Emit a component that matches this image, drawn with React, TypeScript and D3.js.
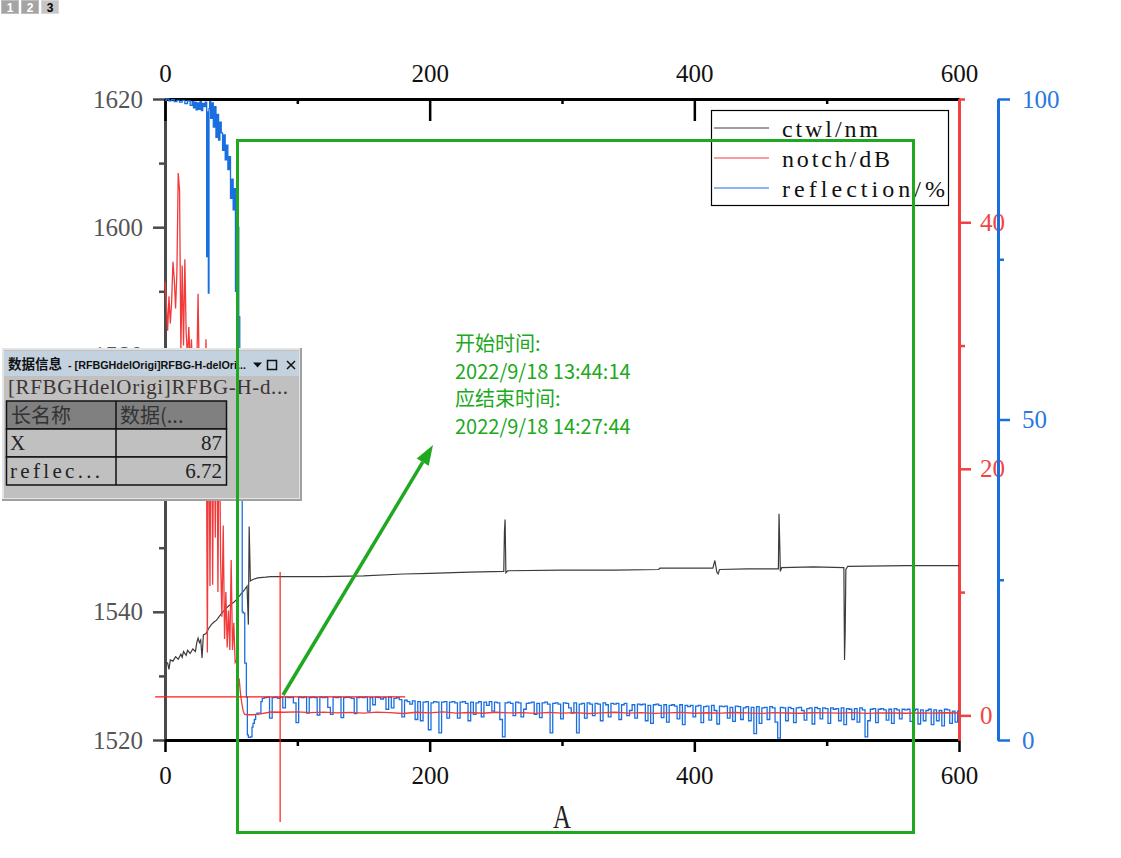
import { useEffect, useRef } from "react";
import * as d3 from "d3";

const W = 1121;
const H = 858;

const TABS = ["1", "2", "3"];

const X_TICKS = [0, 200, 400, 600];
const X_MINOR = [100, 300, 500];
const CTWL_TICKS = [1520, 1540, 1560, 1580, 1600, 1620];
const CTWL_MINOR = [1530, 1550, 1570, 1590, 1610];
const NOTCH_TICKS = [0, 20, 40];
const NOTCH_MINOR = [10, 30, 50];
const REFL_TICKS = [0, 50, 100];
const REFL_MINOR = [25, 75];

const SERIES = [
  { name: "ctwl/nm", color: "#3c3c3c", len: 96 },
  { name: "notch/dB", color: "#f23a3a", len: 108 },
  { name: "reflection/%", color: "#1a6fe0", len: 163 },
];

// ctwl (left axis), [x, nm]
const CTWL: [number, number][] = [
  [0, 1532.1], [2, 1532.0], [3, 1531.0], [4, 1532.5], [6, 1532.3], [8, 1533.0],
  [10, 1532.6], [12, 1533.4], [13, 1532.9], [14, 1533.8], [16, 1533.2], [17, 1534.0],
  [19, 1533.5], [21, 1534.2], [23, 1533.8], [24, 1535.2], [25, 1535.9], [26, 1535.2],
  [27, 1535.6], [28, 1532.8], [29, 1536.4], [31, 1536.6], [33, 1537.4], [35, 1538.0],
  [37, 1538.4], [39, 1538.7], [41, 1539.3], [43, 1539.8], [46, 1540.5], [48, 1540.9],
  [50, 1541.2], [52, 1541.5], [54, 1541.9], [56, 1542.4], [58, 1542.9], [60, 1543.4],
  [62, 1544.0], [63, 1538.0], [63.6, 1553.3], [64.5, 1544.8], [66, 1545.0], [70, 1545.3],
  [76, 1545.4], [80, 1545.5], [120, 1545.5], [150, 1545.6], [180, 1545.9], [200, 1546.0],
  [230, 1546.2], [256, 1546.3], [256.5, 1552.5], [257, 1554.4], [257.6, 1546.1],
  [259, 1546.4], [300, 1546.5], [340, 1546.5], [373, 1546.6], [374, 1546.8], [414, 1546.8],
  [415.5, 1548.0], [417, 1546.2], [418, 1545.9], [419, 1546.6], [440, 1546.7],
  [463.5, 1546.7], [464, 1555.3], [464.5, 1551.0], [465, 1546.3], [466, 1546.9],
  [490, 1547.0], [513, 1546.9], [513.5, 1532.5], [514, 1536.8], [514.5, 1546.6],
  [516, 1547.1], [560, 1547.2], [600, 1547.2],
];

// notch (red axis), [x, dB] for the start
const NOTCH_HEAD: [number, number][] = [
  [0, 35.2], [1, 33.6], [2, 31.2], [3, 34.0], [4, 31.8], [5, 33.5], [6, 36.8], [7, 35.4],
  [8, 33.0], [9, 36.0], [10, 44.0], [11, 42.6], [12, 29.5], [13, 36.5], [14, 30.0],
  [15, 37.0], [16, 31.0], [17, 29.0], [18, 31.5], [19, 28.5], [20, 30.5], [21, 27.0],
  [22, 29.0], [23, 26.0], [24, 28.0], [25, 34.2], [26, 26.5], [27, 24.0], [28, 27.0],
  [29, 22.0], [30, 26.0], [31, 30.5], [32, 5.1], [33, 29.0], [34, 10.5], [35, 29.5],
  [36, 10.6], [37, 28.0], [38, 14.4], [39, 29.0], [40, 10.0], [41, 27.0], [42, 12.6],
  [43, 8.0], [44, 15.4], [45, 6.2], [46, 10.0], [47, 5.5], [48, 8.5], [49, 5.3],
  [50, 12.6], [51, 5.3], [52, 7.5], [53, 4.3], [54, 4.5], [55, 1.8], [56, 3.0],
  [57, 1.8], [58, 1.0], [59, 0.4], [60, 0.1], [62, 0.05], [66, 0.05],
];
// notch from x = 70, every 10
const NOTCH_TAIL = [
  0.08, 0.27, 0.25, 0.28, 0.22, 0.26, 0.2, 0.24, 0.18, 0.26,
  0.22, 0.15, 0.25, 0.2, 0.28, 0.18, 0.23, 0.17, 0.25, 0.2,
  0.22, 0.16, 0.24, 0.18, 0.22, 0.15, 0.2, 0.25, 0.18, 0.22,
  0.16, 0.2, 0.24, 0.17, 0.21, 0.18, 0.23, 0.2, 0.16, 0.22,
  0.19, 0.17, 0.21, 0.2, 0.18, 0.22, 0.16, 0.2, 0.19, 0.17,
  0.2, 0.18, 0.21, 0.19,
];

// reflection (blue axis), [x, %] for the start
const REFL_HEAD: [number, number][] = [
  [0, 99.8], [2, 100], [4, 99.7], [6, 99.9], [8, 99.6], [10, 99.8], [12, 99.5],
  [14, 99.8], [16, 99.3], [18, 99.7], [20, 99.0], [21, 99.6], [22, 98.6], [23, 99.5],
  [24, 98.3], [25, 99.4], [26, 98.4], [27, 99.6], [28, 98.2], [29, 99.3], [30, 98.8],
  [31, 99.5], [32, 75.4], [32.5, 98.0], [33, 69.7], [33.5, 98.5], [34, 99.6], [35, 97.0],
  [36, 99.4], [37, 95.6], [38, 98.8], [39, 94.0], [40, 97.6], [41, 93.6], [42, 96.4],
  [43, 94.7], [44, 92.0], [45, 94.4], [46, 90.5], [47, 92.8], [48, 89.0], [49, 91.0],
  [50, 84.5], [51, 87.5], [52, 82.7], [53, 86.0], [53.5, 70.0], [54, 85.0], [55, 62.9],
  [55.5, 80.0], [56, 66.0], [57, 50.0], [58, 40.0], [58.7, 20.0], [59.5, 19.8],
  [61, 12.0], [62, 6.7], [62.5, 0.8], [63.5, 0.4], [65.5, 0.5], [66, 2.0], [67, 2.6],
  [68, 3.2], [69, 4.0], [70, 4.2], [72, 4.2], [73, 6.0], [74, 6.5],
];
// reflection from x = 76, every 2
const REFL_TAIL = [
  6.6, 6.7, 3.4, 6.6, 6.7, 6.5, 6.7, 5.0, 6.7, 6.6,
  6.7, 5.8, 2.7, 6.7, 6.6, 6.7, 4.2, 6.6, 6.7, 6.6,
  3.9, 6.7, 6.6, 6.7, 5.1, 4.0, 6.7, 6.6, 6.7, 3.5,
  6.6, 6.7, 6.6, 6.5, 4.1, 6.6, 6.7, 6.6, 6.7, 4.5,
  6.6, 5.5, 6.7, 6.6, 6.4, 6.6, 4.8, 6.7, 5.0, 6.5,
  6.6, 6.3, 3.6, 6.2, 6.0, 5.6, 6.1, 3.2, 6.0, 3.0,
  5.9, 6.0, 1.6, 5.8, 6.0, 5.9, 1.1, 5.9, 6.0, 3.4,
  5.9, 6.0, 5.8, 3.4, 5.9, 6.0, 5.7, 3.0, 5.9, 4.0,
  5.8, 6.0, 3.6, 5.9, 5.4, 6.0, 4.5, 5.9, 5.8, 3.2,
  0.5, 5.8, 5.9, 5.7, 3.8, 5.9, 5.8, 3.6, 4.8, 5.7,
  5.8, 5.9, 4.0, 5.7, 3.5, 5.8, 5.9, 5.6, 1.1, 5.7,
  5.8, 5.6, 3.3, 5.8, 5.7, 5.0, 4.2, 5.8, 1.1, 5.6,
  5.7, 3.4, 5.8, 5.6, 3.8, 5.7, 5.6, 3.0, 5.8, 5.5,
  3.6, 5.7, 5.6, 5.7, 3.2, 5.5, 5.7, 3.8, 4.6, 5.5,
  3.4, 5.6, 5.5, 5.6, 3.0, 5.4, 2.6, 5.5, 5.6, 5.4,
  3.5, 5.5, 2.8, 5.4, 5.5, 5.3, 3.3, 5.5, 2.4, 5.4,
  5.2, 5.4, 3.6, 5.3, 5.4, 2.7, 5.2, 5.3, 3.1, 5.4,
  4.6, 2.5, 5.3, 5.2, 5.3, 3.4, 5.1, 2.9, 5.3, 5.2,
  3.2, 5.0, 5.2, 3.0, 5.1, 1.0, 5.2, 2.6, 5.0, 5.1,
  3.2, 5.2, 5.0, 2.8, 0.3, 5.1, 5.0, 3.0, 5.1, 4.9,
  2.7, 5.0, 5.1, 4.6, 3.1, 4.9, 5.0, 2.5, 5.1, 4.9,
  3.3, 5.0, 4.9, 2.6, 5.0, 4.8, 4.9, 3.0, 5.0, 2.4,
  4.9, 4.8, 3.2, 4.9, 2.8, 5.0, 4.7, 0.5, 3.0, 4.8,
  4.9, 2.7, 4.8, 4.9, 4.7, 3.1, 4.8, 2.6, 4.9, 4.7,
  3.3, 4.8, 4.7, 4.8, 2.9, 4.6, 4.8, 2.5, 4.7, 3.0,
  4.6, 4.8, 2.4, 4.7, 3.0, 4.6, 2.2, 4.8, 4.7, 2.6,
  4.5, 2.8, 4.5,
];

// data reader
const READ_X = 87;
const READ_Y = 6.72;
const NOTE_LINES = ["开始时间:", "2022/9/18 13:44:14", "应结束时间:", "2022/9/18 14:27:44"];

const SERIF = "'Liberation Serif', 'Times New Roman', serif";
const CJK = "'Noto Sans CJK SC', 'Noto Sans', sans-serif";
const GREEN = "#20a820";

export default function App() {
  const svgRef = useRef<SVGSVGElement | null>(null);

  useEffect(() => {
    const svg = d3.select(svgRef.current);
    svg.selectAll("*").remove();

    const x = d3.scaleLinear().domain([0, 600]).range([165, 959]);
    const yC = d3.scaleLinear().domain([1520, 1620]).range([740, 99]);
    const yN = d3.scaleLinear().domain([-2, 50]).range([740, 99]);
    const yR = d3.scaleLinear().domain([0, 100]).range([740, 99]);

    svg.append("rect").attr("width", W).attr("height", H).attr("fill", "#fff");

    // page tabs
    TABS.forEach((t, i) => {
      const on = i === TABS.length - 1;
      svg
        .append("rect")
        .attr("x", 1.5 + i * 20)
        .attr("y", 0.5)
        .attr("width", 17)
        .attr("height", 13)
        .attr("fill", on ? "#c6c6c6" : "#a4a4a4")
        .attr("stroke", on ? "#d8d8d8" : "#bdbdbd");
      svg
        .append("text")
        .attr("x", 10 + i * 20)
        .attr("y", 12)
        .attr("text-anchor", "middle")
        .attr("font-family", "'Liberation Sans', sans-serif")
        .attr("font-weight", "bold")
        .attr("font-size", 12)
        .attr("fill", on ? "#000" : "#fff")
        .text(t);
    });

    const style = (
      g: d3.Selection<SVGGElement, unknown, null, undefined>,
      color: string,
      text: string,
    ) => {
      g.selectAll(".domain").attr("stroke", color).attr("stroke-width", 3);
      g.selectAll(".tick line").attr("stroke", color).attr("stroke-width", 2.5);
      g.selectAll(".tick text")
        .attr("fill", text)
        .attr("font-family", SERIF)
        .attr("font-size", 25);
    };

    const none = () => "";
    const fmt = d3.format("d");

    // left axis (ctwl)
    const gl = svg.append("g").attr("transform", "translate(165,0)");
    gl.append("g").call(d3.axisLeft(yC).tickValues(CTWL_MINOR).tickSize(6).tickSizeOuter(0).tickFormat(none));
    gl.append("g").call(d3.axisLeft(yC).tickValues(CTWL_TICKS).tickSize(12).tickPadding(10).tickSizeOuter(0).tickFormat(fmt));
    style(gl, "#4a4a4a", "#555");

    // top axis
    const gt = svg.append("g").attr("transform", "translate(0,99)");
    gt.append("g").call(d3.axisTop(x).tickValues(X_MINOR).tickSize(-5).tickSizeOuter(0).tickFormat(none));
    gt.append("g").call(d3.axisTop(x).tickValues(X_TICKS).tickSize(-22).tickPadding(17).tickSizeOuter(0).tickFormat(fmt));
    style(gt, "#000", "#111");

    // bottom axis
    const gb = svg.append("g").attr("transform", "translate(0,740)");
    gb.append("g").call(d3.axisBottom(x).tickValues(X_MINOR).tickSize(6).tickSizeOuter(0).tickFormat(none));
    gb.append("g").call(d3.axisBottom(x).tickValues(X_TICKS).tickSize(12).tickPadding(14).tickSizeOuter(0).tickFormat(fmt));
    style(gb, "#000", "#111");

    svg
      .append("text")
      .attr("x", 562)
      .attr("y", 828)
      .attr("text-anchor", "middle")
      .attr("font-family", SERIF)
      .attr("font-size", 34)
      .attr("fill", "#222")
      .attr("textLength", 18)
      .attr("lengthAdjust", "spacingAndGlyphs")
      .text("A");

    // red axis (notch)
    const gn = svg.append("g").attr("transform", "translate(959,0)");
    gn.append("g").call(d3.axisRight(yN).tickValues(NOTCH_MINOR).tickSize(6).tickSizeOuter(0).tickFormat(none));
    gn.append("g").call(d3.axisRight(yN).tickValues(NOTCH_TICKS).tickSize(12).tickPadding(9).tickSizeOuter(0).tickFormat(fmt));
    style(gn, "#f04040", "#f04545");

    // blue axis (reflection)
    const gr = svg.append("g").attr("transform", "translate(998,0)");
    gr.append("g").call(d3.axisRight(yR).tickValues(REFL_MINOR).tickSize(6).tickSizeOuter(0).tickFormat(none));
    gr.append("g").call(d3.axisRight(yR).tickValues(REFL_TICKS).tickSize(12).tickPadding(12).tickSizeOuter(0).tickFormat(fmt));
    style(gr, "#1a6fdf", "#2a78e0");

    // series
    const notch: [number, number][] = [
      ...NOTCH_HEAD,
      ...NOTCH_TAIL.map((v, i) => [70 + 10 * i, v] as [number, number]),
    ];
    const refl: [number, number][] = [
      ...REFL_HEAD,
      ...REFL_TAIL.map((v, i) => [76 + 2 * i, v] as [number, number]),
    ];

    const lineC = d3.line<[number, number]>().x((d) => x(d[0])).y((d) => yC(d[1]));
    const lineN = d3.line<[number, number]>().x((d) => x(d[0])).y((d) => yN(d[1]));
    const lineR = d3
      .line<[number, number]>()
      .x((d) => x(d[0]))
      .y((d) => yR(d[1]))
      .curve(d3.curveStep);

    svg
      .append("path")
      .attr("d", lineC(CTWL))
      .attr("fill", "none")
      .attr("stroke", SERIES[0].color)
      .attr("stroke-width", 1.2);
    svg
      .append("path")
      .attr("d", lineR(refl))
      .attr("fill", "none")
      .attr("stroke", SERIES[2].color)
      .attr("stroke-width", 1.3);
    svg
      .append("path")
      .attr("d", lineN(notch))
      .attr("fill", "none")
      .attr("stroke", SERIES[1].color)
      .attr("stroke-width", 1.3);

    // legend
    const lg = svg.append("g").attr("transform", "translate(711,110)");
    lg.append("rect")
      .attr("x", 0.5)
      .attr("y", 0.5)
      .attr("width", 237)
      .attr("height", 95)
      .attr("fill", "#fff")
      .attr("stroke", "#000")
      .attr("stroke-width", 1.2);
    SERIES.forEach((s, i) => {
      const yy = 18 + i * 30;
      lg.append("line")
        .attr("x1", 3)
        .attr("x2", 58)
        .attr("y1", yy)
        .attr("y2", yy)
        .attr("stroke", s.color)
        .attr("stroke-width", 1.2);
      lg.append("text")
        .attr("x", 71)
        .attr("y", yy + 9)
        .attr("font-family", SERIF)
        .attr("font-size", 24)
        .attr("fill", "#111")
        .attr("textLength", s.len)
        .attr("lengthAdjust", "spacing")
        .text(s.name);
    });

    // data reader crosshair
    const cx = x(READ_X);
    const cy = yR(READ_Y);
    svg
      .append("line")
      .attr("x1", cx - 125)
      .attr("x2", cx + 125)
      .attr("y1", cy)
      .attr("y2", cy)
      .attr("stroke", "#ff1a1a")
      .attr("stroke-width", 1.2);
    svg
      .append("line")
      .attr("x1", cx)
      .attr("x2", cx)
      .attr("y1", cy - 125)
      .attr("y2", cy + 125)
      .attr("stroke", "#ff1a1a")
      .attr("stroke-width", 1.2);

    // data info panel
    const p = svg.append("g");
    p.append("rect").attr("x", 2).attr("y", 348).attr("width", 300).attr("height", 153).attr("fill", "#a0a0a0");
    p.append("rect").attr("x", 2).attr("y", 348).attr("width", 298).attr("height", 151).attr("fill", "#e4e4e4");
    p.append("rect").attr("x", 4).attr("y", 350).attr("width", 295).attr("height", 148).attr("fill", "#c0c0c0");
    p.append("rect").attr("x", 4).attr("y", 351).attr("width", 295).attr("height", 25).attr("fill", "#c4d1de");
    p.append("text")
      .attr("x", 8)
      .attr("y", 369)
      .attr("font-family", CJK)
      .attr("font-weight", "bold")
      .attr("font-size", 13.5)
      .attr("fill", "#111")
      .text("数据信息");
    p.append("text")
      .attr("x", 68)
      .attr("y", 369)
      .attr("font-family", "'Liberation Sans', sans-serif")
      .attr("font-weight", "bold")
      .attr("font-size", 11)
      .attr("fill", "#111")
      .attr("textLength", 178)
      .attr("lengthAdjust", "spacingAndGlyphs")
      .text("- [RFBGHdelOrigi]RFBG-H-delOri...");
    p.append("path").attr("d", "M253,362.5 L262,362.5 L257.5,367.5 Z").attr("fill", "#111");
    p.append("rect")
      .attr("x", 267.5)
      .attr("y", 360.5)
      .attr("width", 9)
      .attr("height", 9)
      .attr("fill", "none")
      .attr("stroke", "#111")
      .attr("stroke-width", 1.5);
    p.append("path")
      .attr("d", "M287,361 L295,369 M295,361 L287,369")
      .attr("stroke", "#111")
      .attr("stroke-width", 1.5);
    p.append("text")
      .attr("x", 8)
      .attr("y", 394)
      .attr("font-family", SERIF)
      .attr("font-size", 21)
      .attr("fill", "#3c3434")
      .attr("textLength", 280)
      .attr("lengthAdjust", "spacing")
      .text("[RFBGHdelOrigi]RFBG-H-d...");

    const rows = [
      ["长名称", "数据(..."],
      ["X", String(READ_X)],
      ["reflec...", READ_Y.toFixed(2)],
    ];
    rows.forEach((r, i) => {
      const top = 401 + i * 28;
      p.append("rect")
        .attr("x", 6.5)
        .attr("y", top)
        .attr("width", 220)
        .attr("height", 28)
        .attr("fill", i === 0 ? "#808080" : "#c0c0c0")
        .attr("stroke", "#111")
        .attr("stroke-width", 1.5);
      p.append("line")
        .attr("x1", 116)
        .attr("x2", 116)
        .attr("y1", top)
        .attr("y2", top + 28)
        .attr("stroke", "#111")
        .attr("stroke-width", 1.5);
      if (i === 0) {
        p.append("text").attr("x", 11).attr("y", top + 22).attr("font-family", CJK).attr("font-size", 20).attr("fill", "#333").text(r[0]);
        p.append("text").attr("x", 120).attr("y", top + 22).attr("font-family", CJK).attr("font-size", 20).attr("fill", "#333").text(r[1]);
      } else {
        p.append("text").attr("x", 10).attr("y", top + 21).attr("font-family", SERIF).attr("font-size", 21).attr("fill", "#222")
          .attr("textLength", i === 1 ? 14 : 90).attr("lengthAdjust", "spacing").text(r[0]);
        p.append("text").attr("x", 222).attr("y", top + 21).attr("text-anchor", "end").attr("font-family", SERIF).attr("font-size", 21).attr("fill", "#222").text(r[1]);
      }
    });

    // green annotation
    svg
      .append("rect")
      .attr("x", 237.5)
      .attr("y", 140.5)
      .attr("width", 676)
      .attr("height", 692)
      .attr("fill", "none")
      .attr("stroke", GREEN)
      .attr("stroke-width", 3);

    const a0 = [283, 695];
    const a1 = [433, 445];
    const len = Math.hypot(a1[0] - a0[0], a1[1] - a0[1]);
    const ux = (a1[0] - a0[0]) / len;
    const uy = (a1[1] - a0[1]) / len;
    const bx = a1[0] - ux * 20;
    const by = a1[1] - uy * 20;
    svg
      .append("line")
      .attr("x1", a0[0])
      .attr("y1", a0[1])
      .attr("x2", bx)
      .attr("y2", by)
      .attr("stroke", GREEN)
      .attr("stroke-width", 3.5);
    svg
      .append("path")
      .attr(
        "d",
        `M${a1[0]},${a1[1]} L${bx - uy * 7},${by + ux * 7} L${bx + uy * 7},${by - ux * 7} Z`,
      )
      .attr("fill", GREEN);

    NOTE_LINES.forEach((t, i) => {
      svg
        .append("text")
        .attr("x", 455)
        .attr("y", 351 + i * 27.5)
        .attr("font-family", CJK)
        .attr("font-size", 20)
        .attr("fill", GREEN)
        .text(t);
    });
  }, []);

  return (
    <svg
      ref={svgRef}
      width={W}
      height={H}
      style={{ position: "absolute", left: 0, top: 0, display: "block" }}
    />
  );
}
